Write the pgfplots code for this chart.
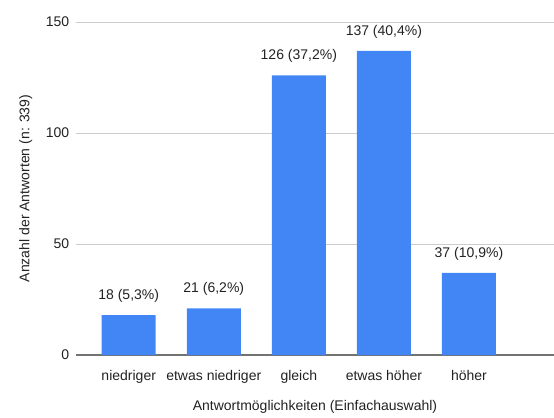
\documentclass[border=0pt]{standalone}
\usepackage{pgfplots}
\pgfplotsset{compat=1.18}
\usepackage{fontspec}
\setmainfont{Liberation Sans}
\definecolor{barblue}{HTML}{4285F4}
\definecolor{txt}{HTML}{222222}
\begin{document}
\fontsize{14bp}{16bp}\selectfont
\begin{tikzpicture}
\begin{axis}[
  at={(0,0)}, anchor=south west,
  scale only axis,
  width=478bp, height=333bp,
  xmin=-0.62, xmax=5,
  ymin=0, ymax=150,
  ytick={0,50,100,150},
  xtick={0,1,2,3,4},
  xticklabels={niedriger, etwas niedriger, gleich, etwas höher, höher},
  axis line style={draw=none},
  tick style={draw=none},
  ymajorgrids,
  grid style={color=black!20, line width=0.8pt},
  extra y ticks={0},
  extra y tick labels={},
  extra y tick style={grid style={color=black!55, line width=1.5pt}},
  /pgf/number format/assume math mode=true,
  ticklabel style={font=\fontsize{14bp}{16bp}\selectfont, text=txt},
  yticklabel style={xshift=-2bp},
  xticklabel style={yshift=-6bp},
  xlabel={Antwortmöglichkeiten (Einfachauswahl)},
  ylabel={Anzahl der Antworten (n: 339)},
  label style={font=\fontsize{14bp}{16bp}\selectfont, text=txt},
  xlabel style={yshift=-8bp},
  ylabel style={yshift=4bp},
  ybar, bar width=54bp, bar shift=0pt,
  nodes near coords,
  point meta=explicit symbolic,
  every node near coord/.append style={font=\fontsize{14bp}{16bp}\selectfont, text=txt, yshift=8bp},
]
\addplot[fill=barblue, draw=none] coordinates {
  (0,18) [18 (5,3\%)]
  (1,21) [21 (6,2\%)]
  (2,126) [126 (37,2\%)]
  (3,137) [137 (40,4\%)]
  (4,37) [37 (10,9\%)]
};
\end{axis}
\pgfresetboundingbox
\path[use as bounding box] (-76bp,-63bp) rectangle (478bp,355bp);
\end{tikzpicture}
\end{document}
